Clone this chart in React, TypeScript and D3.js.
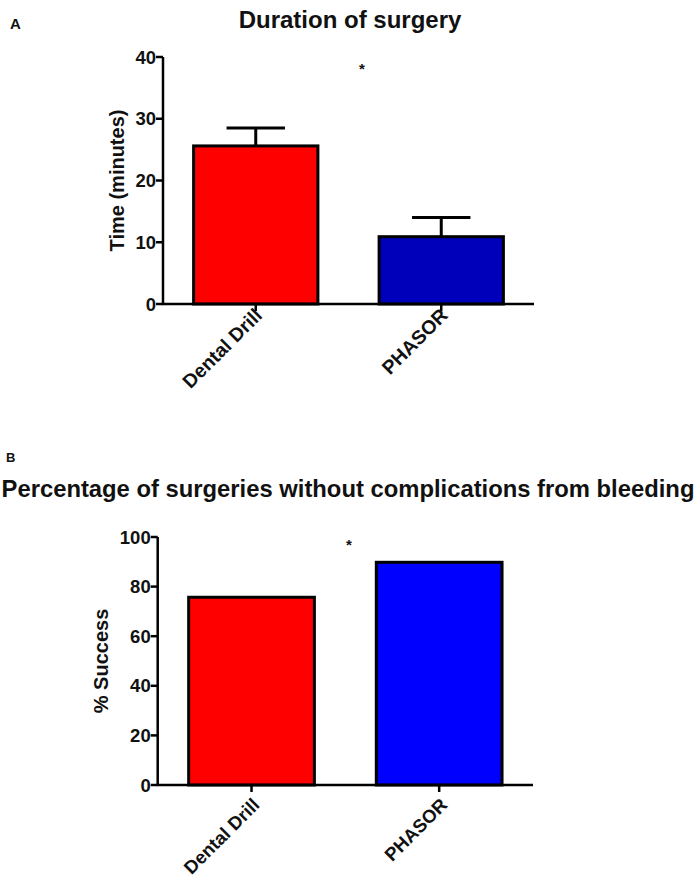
import React from "react";
import * as d3 from "d3";

const categories = ["Dental Drill", "PHASOR"];
const durationMeans = [25.6, 10.9];
const durationErrors = [2.9, 3.1];
const durationTicks = [0, 10, 20, 30, 40];
const successValues = [75.7, 89.8];
const successTicks = [0, 20, 40, 60, 80, 100];
const colorsA = ["#ff0000", "#0000bb"];
const colorsB = ["#ff0000", "#0000ff"];

const FONT = "'Liberation Sans', Arial, Helvetica, sans-serif";

type PanelProps = {
  x0: number;
  x1: number;
  yTop: number;
  yBottom: number;
  domainMax: number;
  ticks: number[];
  values: number[];
  errors?: number[];
  colors: string[];
  yLabel: string;
  yLabelX: number;
  labelDx: number;
  labelOffset: number;
  labelSize: number;
  starX: number;
  starY: number;
};

function Panel(p: PanelProps) {
  const x = d3.scaleBand<string>().domain(categories).range([p.x0, p.x1]).paddingInner(0.33).paddingOuter(0.165);
  const y = d3.scaleLinear().domain([0, p.domainMax]).range([p.yBottom, p.yTop]);
  const bw = x.bandwidth();
  const yMid = (p.yTop + p.yBottom) / 2;
  return (
    <g>
      {categories.map((c, i) => {
        const bx = x(c)!;
        const cx = bx + bw / 2;
        const top = y(p.values[i]);
        return (
          <g key={c}>
            {p.errors && (
              <g stroke="#000" strokeWidth={3}>
                <line x1={cx} x2={cx} y1={top} y2={y(p.values[i] + p.errors[i])} />
                <line x1={cx - bw * 0.235} x2={cx + bw * 0.235} y1={y(p.values[i] + p.errors[i])} y2={y(p.values[i] + p.errors[i])} />
              </g>
            )}
            <rect x={bx} y={top} width={bw} height={p.yBottom - top} fill={p.colors[i]} stroke="#000" strokeWidth={3} />
          </g>
        );
      })}
      {/* y axis */}
      <line x1={p.x0} x2={p.x0} y1={p.yTop} y2={p.yBottom} stroke="#000" strokeWidth={2.5} />
      {p.ticks.map((t) => (
        <g key={t}>
          <line x1={p.x0 - 7} x2={p.x0} y1={y(t)} y2={y(t)} stroke="#000" strokeWidth={2.5} />
          <text x={p.x0 - 7} y={y(t)} dy="0.36em" textAnchor="end" fontFamily={FONT} fontWeight="bold" fontSize={18.5} fill="#111">
            {t}
          </text>
        </g>
      ))}
      {/* x axis */}
      <line x1={p.x0 - 1} x2={p.x1} y1={p.yBottom} y2={p.yBottom} stroke="#000" strokeWidth={2.5} />
      {categories.map((c) => {
        const cx = x(c)! + bw / 2;
        return (
          <g key={c}>
            <line x1={cx} x2={cx} y1={p.yBottom} y2={p.yBottom + 7} stroke="#000" strokeWidth={2.5} />
            <text
              transform={`translate(${cx + p.labelDx},${p.yBottom + p.labelOffset}) rotate(-45)`}
              textAnchor="end"
              dy="0.7em"
              fontFamily={FONT}
              fontWeight="bold"
              fontSize={p.labelSize}
              fill="#111"
            >
              {c}
            </text>
          </g>
        );
      })}
      <text transform={`translate(${p.yLabelX},${yMid}) rotate(-90)`} textAnchor="middle" fontFamily={FONT} fontWeight="bold" fontSize={20} fill="#111">
        {p.yLabel}
      </text>
      <text x={p.starX} y={p.starY} textAnchor="middle" dy="0.7em" fontFamily={FONT} fontWeight="bold" fontSize={15} fill="#111">
        *
      </text>
    </g>
  );
}

export default function App() {
  return (
    <svg width={697} height={882} style={{ position: "absolute", left: 0, top: 0, background: "#fff" }}>
      <rect width={697} height={882} fill="#fff" />
      <text x={10} y={29} fontFamily={FONT} fontWeight="bold" fontSize={15} fill="#111">A</text>
      <text x={350} y={28} textAnchor="middle" fontFamily={FONT} fontWeight="bold" fontSize={24} fill="#111">
        Duration of surgery
      </text>
      <Panel
        x0={163}
        x1={534}
        yTop={57}
        yBottom={304}
        domainMax={40}
        ticks={durationTicks}
        values={durationMeans}
        errors={durationErrors}
        colors={colorsA}
        yLabel="Time (minutes)"
        yLabelX={124}
        labelDx={-2}
        labelOffset={3}
        labelSize={19.5}
        starX={362}
        starY={63}
      />
      <text x={6} y={462} fontFamily={FONT} fontWeight="bold" fontSize={13} fill="#111">B</text>
      <text x={348} y={497} textAnchor="middle" fontFamily={FONT} fontWeight="bold" fontSize={23.8} fill="#111">
        Percentage of surgeries without complications from bleeding
      </text>
      <Panel
        x0={157.7}
        x1={533}
        yTop={537}
        yBottom={785}
        domainMax={100}
        ticks={successTicks}
        values={successValues}
        colors={colorsB}
        yLabel="% Success"
        yLabelX={108}
        labelDx={0}
        labelOffset={12}
        labelSize={18.5}
        starX={349}
        starY={539}
      />
    </svg>
  );
}
